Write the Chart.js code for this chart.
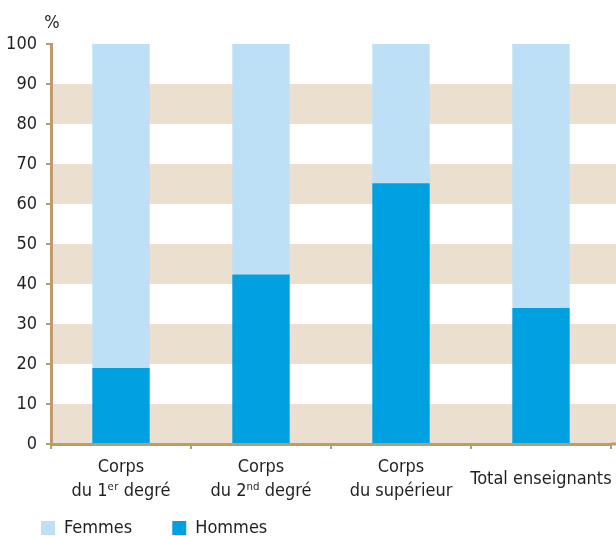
<!DOCTYPE html>
<html><head><meta charset="utf-8">
<script src="https://cdn.jsdelivr.net/npm/chart.js@4/dist/chart.umd.min.js"></script>
<style>html,body{margin:0;padding:0;overflow:hidden;background:#fff;width:616px;height:536px}canvas{display:block}</style>
</head><body>
<canvas id="c" width="616" height="572"></canvas>
<script>
const categories = [["Corps","du 1ᵉʳ degré"],["Corps","du 2ⁿᵈ degré"],["Corps","du supérieur"],"Total enseignants"];
const hommes = [19, 42.4, 65.2, 34];
const femmes = [81, 57.6, 34.8, 66];
const yTicks = [0,10,20,30,40,50,60,70,80,90,100];
const unitLabel = "%";
const seriesNames = ["Hommes","Femmes"];

const FONT = "'DejaVu Sans Condensed','Liberation Sans Narrow','Roboto',sans-serif";
const TAN = '#bf9a6a';
const BAND = '#ebe0cf';
const TXT = '#231f20';
const LEGEND_TOP = 479;

const decor = {
  id:'decor',
  afterLayout(chart){
    const l = chart.legend;
    if (l) { const dy = LEGEND_TOP - l.top; l.top += dy; l.bottom += dy; }
  },
  beforeDraw(chart){
    const {ctx, chartArea, scales:{y}} = chart;
    ctx.save();
    ctx.fillStyle = BAND;
    for (let i=0;i<yTicks.length-1;i+=2){
      const t=y.getPixelForValue(yTicks[i+1]), b=y.getPixelForValue(yTicks[i]);
      ctx.fillRect(chartArea.left, t, chart.width-chartArea.left, b-t);
    }
    ctx.strokeStyle = TAN; ctx.lineWidth = 3;
    ctx.beginPath(); ctx.moveTo(chartArea.right, chartArea.bottom); ctx.lineTo(chart.width, chartArea.bottom); ctx.stroke();
    ctx.restore();
  },
  afterDraw(chart){
    const {ctx, chartArea} = chart;
    ctx.save();
    ctx.fillStyle = TXT; ctx.font = "18px " + FONT;
    ctx.textAlign='center'; ctx.textBaseline='alphabetic';
    ctx.fillText(unitLabel, chartArea.left+1, 28);
    ctx.restore();
  }
};

Chart.defaults.font.family = FONT;
Chart.defaults.color = TXT;

new Chart(document.getElementById('c'), {
  type:'bar',
  data:{
    labels: categories,
    datasets:[
      {label:seriesNames[0], data:hommes, backgroundColor:'#00a0e1', borderWidth:0},
      {label:seriesNames[1], data:femmes, backgroundColor:'#bde0f6', borderWidth:0}
    ]
  },
  options:{
    responsive:false, animation:false,
    devicePixelRatio:1,
    layout:{padding:{top:44,left:1,right:5,bottom:0}},
    datasets:{bar:{categoryPercentage:1, barPercentage:0.41}},
    plugins:{
      tooltip:{enabled:false},
      legend:{position:'bottom', align:'start', reverse:true,
        labels:{boxWidth:14, boxHeight:14, padding:40, font:{size:18}, color:TXT}}
    },
    scales:{
      x:{stacked:true,
        grid:{offset:true, drawOnChartArea:false, drawTicks:true, tickLength:5, color:TAN, lineWidth:2},
        border:{color:TAN, width:3},
        ticks:{font:{size:18, lineHeight:1.35}, padding:18, maxRotation:0, autoSkip:false, crossAlign:'center', color:TXT},
        afterFit(s){ s.height = 60; s.paddingLeft = 0; s.paddingRight = 0; }
      },
      y:{stacked:true, min:0, max:100,
        grid:{drawOnChartArea:false, drawTicks:true, tickLength:5, color:TAN, lineWidth:2},
        border:{color:TAN, width:3},
        ticks:{stepSize:10, font:{size:18}, padding:9, color:TXT},
        afterFit(s){ s.width = 50; }
      }
    }
  },
  plugins:[decor]
});
</script>
</body></html>
